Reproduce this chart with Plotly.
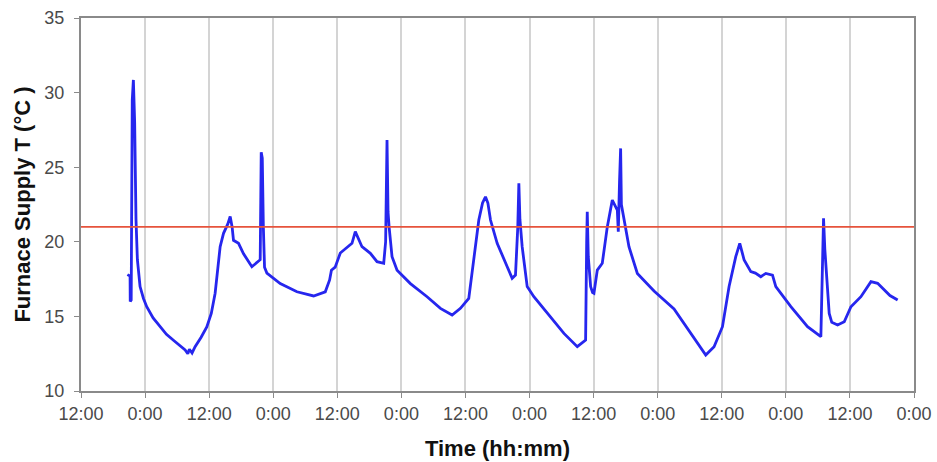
import plotly.graph_objects as go

# elapsed hours since the first 12:00 tick
hours = [8.69, 9.19, 9.22, 9.4, 9.6, 9.81, 10.05, 10.3, 10.56, 11.06, 11.7, 12.31, 13.5, 14.81,
         16.0, 17.31, 19.5, 20.0, 20.3, 20.8, 21.37, 22.5, 23.56, 24.4, 25.12, 26.06, 26.69,
         27.5, 27.94, 28.3, 28.56, 29.5, 30.44, 32.0, 33.3, 33.56, 33.75, 33.95, 34.15, 34.37,
         34.81, 37.31, 40.44, 43.56, 45.75, 46.56, 46.9, 47.6, 48.56, 49.81, 50.75, 51.37,
         52.0, 52.62, 54.19, 55.44, 56.69, 57.05, 57.31, 57.5, 57.7, 58.25, 59.19, 61.69,
         64.81, 67.31, 69.5, 71.06, 72.62, 73.56, 74.5, 75.2, 75.75, 76.2, 76.69, 77.94,
         79.81, 80.75, 81.37, 81.8, 82.0, 82.2, 82.62, 83.56, 84.81, 87.31, 90.44, 92.94,
         94.5, 94.7, 94.81, 95.0, 95.44, 95.8, 96.06, 96.69, 97.62, 98.56, 99.5, 100.44,
         100.62, 100.85, 101.06, 101.2, 101.37, 102.62, 104.19, 107.31, 111.06, 114.19,
         117.0, 118.56, 120.13, 121.37, 122.62, 123.37, 124.19, 125.44, 126.3, 127.31,
         128.25, 129.5, 130.12, 132.94, 136.06, 138.56, 138.9, 139.06, 139.3, 139.5, 140.12,
         140.6, 141.69, 142.94, 144.19, 146.06, 147.94, 149.19, 150.75, 151.5, 152.94]
supply_temp = [17.8, 17.7, 16.0, 16.1, 29.5, 30.85, 28.0, 21.5, 18.8, 17.0, 16.2, 15.65, 14.9,
               14.3, 13.8, 13.4, 12.75, 12.5, 12.8, 12.55, 12.97, 13.6, 14.3, 15.2, 16.55,
               19.67, 20.57, 21.2, 21.7, 21.0, 20.1, 19.9, 19.2, 18.33, 18.7, 18.8, 26.0, 25.6,
               21.0, 18.3, 17.9, 17.2, 16.65, 16.37, 16.65, 17.44, 18.1, 18.3, 19.25, 19.6,
               19.9, 20.68, 20.2, 19.67, 19.23, 18.67, 18.56, 20.0, 26.82, 22.0, 21.0, 19.0,
               18.1, 17.2, 16.32, 15.54, 15.09, 15.54, 16.21, 18.78, 21.46, 22.6, 23.02, 22.6,
               21.46, 19.9, 18.33, 17.55, 17.77, 21.0, 23.92, 21.5, 19.67, 17.0, 16.32, 15.2,
               13.86, 12.97, 13.42, 20.0, 22.02, 19.0, 17.0, 16.6, 16.55, 18.1, 18.56, 21.0,
               22.8, 22.13, 20.68, 24.0, 26.26, 22.5, 22.13, 19.67, 17.88, 16.7, 15.5, 13.87,
               12.41, 12.97, 14.31, 17.0, 19.0, 19.9, 18.78, 18.0, 17.9, 17.66, 17.88, 17.77,
               17.0, 15.65, 14.31, 13.64, 20.0, 21.57, 19.5, 18.33, 15.2, 14.6, 14.42, 14.64,
               15.65, 16.32, 17.33, 17.22, 16.66, 16.4, 16.1]

setpoint = 21.0
tick_hours = [0, 12, 24, 36, 48, 60, 72, 84, 96, 108, 120, 132, 144, 156]
tick_labels = ["12:00", "0:00"] * 7
y_ticks = [10, 15, 20, 25, 30, 35]

fig = go.Figure()
fig.add_trace(go.Scatter(x=hours, y=supply_temp, mode="lines",
                         line=dict(color="#2626ee", width=2.8), showlegend=False))
fig.add_hline(y=setpoint, line=dict(color="#e6533c", width=1.6))

axis_font = dict(family="Liberation Sans, Arial, sans-serif", size=18, color="#4a4a4a")
title_font = dict(family="Liberation Sans, Arial, sans-serif", size=22, color="#111111")

fig.update_layout(
    width=937, height=462,
    margin=dict(l=81, r=23, t=18, b=71),
    paper_bgcolor="white", plot_bgcolor="white",
    xaxis=dict(range=[0, 156], tickmode="array", tickvals=tick_hours, ticktext=tick_labels,
               showgrid=True, gridcolor="#d4d4d4", gridwidth=1.8, automargin=False,
               showline=True, linecolor="#8a8a8a", linewidth=2, mirror=True,
               ticks="outside", ticklen=5, tickcolor="#8a8a8a", tickfont=axis_font,
               zeroline=False,
               title=dict(text="<b>Time (hh:mm)</b>", font=title_font, standoff=18)),
    yaxis=dict(range=[10, 35], tickmode="array", tickvals=y_ticks, automargin=False,
               showgrid=False, showline=True, linecolor="#8a8a8a", linewidth=2, mirror=True,
               ticks="outside", ticklen=5, tickcolor="#8a8a8a", tickfont=axis_font,
               ticklabelstandoff=6, zeroline=False,
               title=dict(text="<b>Furnace Supply T (°C )</b>", font=title_font, standoff=8)),
)

fig.write_html("out.html")
